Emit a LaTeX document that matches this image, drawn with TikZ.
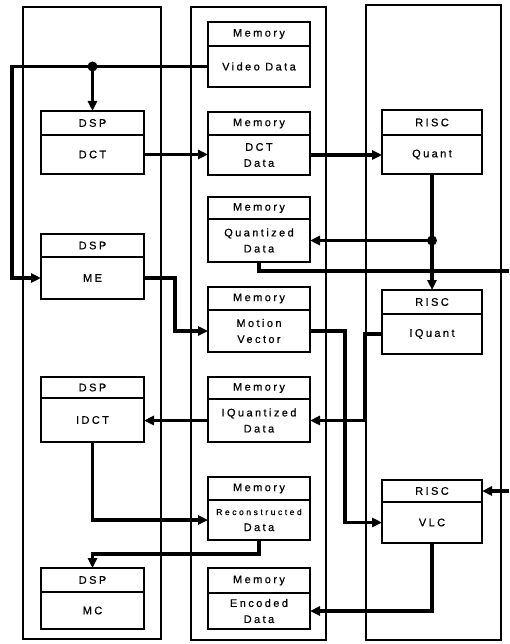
\documentclass[tikz,border=0pt]{standalone}
\usepackage{fontspec}
\setmainfont{Liberation Sans}
\newfontfamily\lblfont[LetterSpace=22,FakeBold=0.6]{Liberation Sans}
\newfontfamily\lblsmall[LetterSpace=30,FakeBold=0.5]{Liberation Sans}
\usetikzlibrary{arrows.meta}
\tikzset{
  col/.style={draw, line width=1.3pt},
  hdr/.style={draw, fill=white, line width=1.8pt, inner sep=0pt, outer sep=0pt, anchor=north west,
    font={\lblfont\fontsize{11}{15}\selectfont}},
  bdy/.style={draw, fill=white, line width=1.8pt, inner sep=0pt, outer sep=0pt, anchor=north west, align=center,
    font={\lblfont\fontsize{11}{16}\selectfont}},
  conn/.style={line width=3.2pt},
  arr/.style={conn, -{Triangle[length=10pt,width=9pt]}},
  dotc/.style={circle, fill=black, inner sep=0pt, minimum size=10pt},
}
% name, x, width, ytop, header h, body h, header text, body text
\newcommand\myblk[8]{%
  \node[hdr, minimum width=#3pt, minimum height=#5pt, at={(#2,#4)}] (#1h) {#7};
  \node[bdy, minimum width=#3pt, minimum height=#6pt, at=(#1h.south west)] (#1) {#8};
}
\begin{document}
\begin{tikzpicture}[x=1pt,y=-1pt]
\useasboundingbox (0,0) rectangle (509,644);
% columns
\draw[col] (23,7) rectangle (161,639);
\draw[col] (191,7) rectangle (326,640);
\draw[col] (366,5) rectangle (501,640);
% DSP column
\myblk{dct}{41}{103}{111}{24}{39}{DSP}{DCT}
\myblk{me}{41}{103}{234}{23}{42}{DSP}{ME}
\myblk{idct}{41}{103}{377}{21}{44}{DSP}{IDCT}
\myblk{mc}{41}{103}{568}{24}{37}{DSP}{MC}
% Memory column
\myblk{vid}{208}{102}{22}{24}{41}{Memory}{Video Data}
\myblk{dctd}{208}{102}{112}{23}{40}{Memory}{DCT\\Data}
\myblk{quantd}{208}{102}{197}{22}{43}{Memory}{Quantized\\Data}
\myblk{mv}{208}{102}{287}{23}{42}{Memory}{Motion\\Vector}
\myblk{iquantd}{208}{102}{377}{22}{43}{Memory}{IQuantized\\Data}
\myblk{recd}{208}{102}{477}{23}{40}{Memory}{{\lblsmall\fontsize{8.5}{16}\selectfont Reconstructed}\\Data}
\myblk{encd}{208}{102}{568}{25}{36}{Memory}{Encoded\\Data}
% RISC column
\myblk{quant}{382}{100}{110}{25}{39}{RISC}{Quant}
\myblk{iquant}{382}{100}{290}{24}{40}{RISC}{IQuant}
\myblk{vlc}{382}{100}{480}{22}{41}{RISC}{VLC}
% helper coordinates
\coordinate (lft) at (12,100);
\coordinate (k1) at (175,300);
\coordinate (k2) at (345,400);
\coordinate (k3) at (365,380);
\coordinate (exitq) at (509,271);
\coordinate (entv) at (509,491);
\node[dotc] (dot1) at (dcth.north |- vid.west) {};
\node[dotc] (dot2) at (quant.south |- quantd.east) {};
% connectors
\draw[arr] (vid.west) -- (vid.west -| lft) -- (lft |- me.west) -- (me.west);
\draw[arr] (dot1.center) -- (dcth.north);
\draw[arr] (dct.east) -- (dct.east -| dctd.west);
\draw[arr] (dctd.east) -- (dctd.east -| quant.west);
\draw[conn] (quant.south) -- (dot2.center);
\draw[arr] (dot2.center) -- (iquanth.north);
\draw[arr] (dot2.center) -- (quantd.east);
\draw[conn] (quantd.south) -- ++(0,9) coordinate (qd1) -- (qd1 -| exitq);
\draw[arr] (entv) -- (vlch.east);
\draw[arr] (me.east) -| (k1) |- (mv.west);
\draw[arr] (mv.east) -| (k2) |- (vlc.west);
\draw[arr] (iquant.west) -| (k3) |- (iquantd.east);
\draw[arr] (iquantd.west) -- (iquantd.west -| idct.east);
\draw[arr] (idct.south) |- (recd.west);
\draw[arr] (recd.south) -- ++(0,14) -| (mch.north);
\draw[arr] (vlc.south) |- (encd.east);
\end{tikzpicture}
\end{document}
